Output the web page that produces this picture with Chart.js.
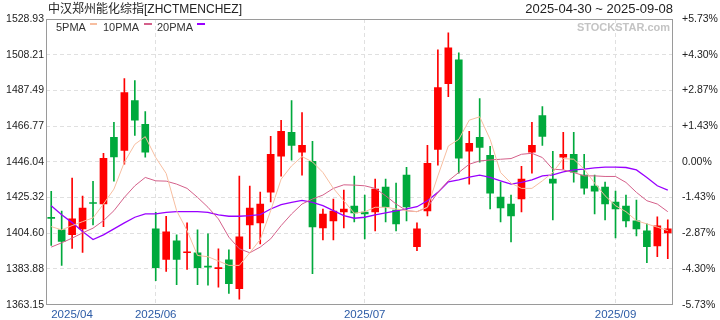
<!DOCTYPE html>
<html>
<head>
<meta charset="utf-8">
<script src="https://cdn.jsdelivr.net/npm/chart.js@4.4.1/dist/chart.umd.min.js"></script>
<style>
html, body { margin: 0; padding: 0; background: #fff; }
canvas { display: block; }
</style>
</head>
<body>
<canvas id="kline" width="720" height="320"></canvas>
<script>
// daily candles, 2025-04-30 .. 2025-09-08 (60 sessions)
const opens = [1413.78, 1406.57, 1403.85, 1407.14, 1422.44, 1421.57, 1460.25, 1452.74, 1481.60, 1467.75,
  1407.14, 1389.42, 1400.22, 1393.29, 1393.29, 1385.50, 1384.06, 1389.25, 1372.51, 1409.45,
  1410.61, 1428.50, 1449.28, 1463.13, 1451.59, 1446.39, 1407.72, 1411.76, 1416.96, 1420.42,
  1416.96, 1416.96, 1431.39, 1418.11, 1438.31, 1396.75, 1417.53, 1453.32, 1491.42, 1505.27,
  1452.17, 1460.25, 1449.86, 1425.61, 1421.57, 1424.46, 1451.59, 1472.94, 1436.00, 1448.70,
  1450.43, 1438.31, 1431.96, 1431.39, 1422.73, 1420.42, 1411.76, 1405.99, 1397.33, 1404.84];
const highs = [1428.90, 1417.53, 1436.58, 1426.19, 1434.68, 1451.01, 1468.90, 1494.30, 1493.15, 1475.25,
  1416.78, 1414.47, 1403.68, 1410.61, 1406.57, 1404.26, 1395.60, 1395.02, 1437.74, 1431.96,
  1428.50, 1460.82, 1470.06, 1481.60, 1474.68, 1457.94, 1418.69, 1424.46, 1429.65, 1437.74,
  1426.77, 1436.00, 1436.00, 1433.70, 1442.93, 1410.61, 1455.63, 1511.04, 1520.85, 1509.31,
  1463.71, 1482.76, 1455.05, 1434.27, 1426.77, 1443.51, 1468.90, 1478.14, 1452.17, 1463.13,
  1463.13, 1450.43, 1438.31, 1434.27, 1429.08, 1426.77, 1423.88, 1410.03, 1414.07, 1412.34];
const lows = [1397.50, 1385.96, 1395.77, 1393.46, 1409.45, 1408.47, 1434.85, 1444.66, 1461.40, 1448.70,
  1377.13, 1382.50, 1374.82, 1383.65, 1374.82, 1374.42, 1373.26, 1369.63, 1366.34, 1395.60,
  1398.49, 1422.73, 1437.74, 1446.97, 1438.31, 1381.17, 1400.79, 1400.79, 1407.72, 1411.18,
  1401.37, 1405.99, 1411.18, 1405.99, 1411.76, 1394.45, 1414.65, 1444.08, 1483.91, 1439.47,
  1433.12, 1445.82, 1418.69, 1411.18, 1399.64, 1416.96, 1439.47, 1455.63, 1412.34, 1441.78,
  1434.27, 1427.35, 1415.80, 1412.34, 1401.95, 1408.30, 1403.10, 1387.52, 1390.98, 1389.83];
const closes = [1413.20, 1399.81, 1412.92, 1419.27, 1421.86, 1448.13, 1448.88, 1486.22, 1470.23, 1451.59,
  1384.63, 1405.41, 1389.42, 1393.87, 1384.63, 1384.92, 1384.63, 1375.40, 1402.53, 1419.27,
  1421.57, 1450.43, 1463.71, 1455.63, 1455.63, 1408.30, 1415.80, 1417.53, 1418.69, 1416.38,
  1415.80, 1430.23, 1419.84, 1410.03, 1419.84, 1407.14, 1445.24, 1489.11, 1512.19, 1448.13,
  1456.78, 1454.47, 1427.92, 1419.27, 1414.65, 1436.00, 1455.63, 1460.82, 1433.70, 1450.43,
  1440.04, 1430.81, 1429.08, 1421.57, 1418.69, 1411.76, 1407.14, 1396.75, 1408.88, 1407.14];

const ma5 = [1408.47, 1406.57, 1409.05, 1411.36, 1413.49, 1421.57, 1430.23, 1445.82, 1456.21, 1460.65,
  1448.53, 1439.29, 1417.71, 1406.16, 1391.73, 1390.98, 1388.50, 1385.96, 1385.96, 1393.29,
  1400.97, 1417.71, 1436.00, 1443.68, 1449.11, 1445.99, 1439.87, 1430.64, 1423.48, 1416.21,
  1417.13, 1419.67, 1419.67, 1418.69, 1417.71, 1417.13, 1419.67, 1437.91, 1455.22, 1459.09,
  1470.23, 1472.19, 1459.09, 1439.87, 1433.70, 1430.64, 1430.64, 1435.02, 1439.87, 1447.95,
  1447.55, 1441.78, 1433.70, 1426.36, 1420.59, 1417.13, 1411.93, 1410.03, 1408.12, 1406.16];
const ma10 = [1396.58, 1399.06, 1401.78, 1404.84, 1407.55, 1411.93, 1417.71, 1425.44, 1432.14, 1436.99,
  1435.02, 1434.85, 1433.12, 1430.64, 1425.44, 1419.67, 1412.92, 1402.35, 1395.60, 1393.29,
  1396.58, 1401.37, 1409.05, 1415.80, 1421.57, 1424.46, 1426.77, 1430.64, 1432.71, 1432.54,
  1432.14, 1430.64, 1426.36, 1421.57, 1417.71, 1417.13, 1419.67, 1428.33, 1435.02, 1439.87,
  1444.66, 1446.57, 1447.14, 1447.55, 1447.95, 1450.43, 1451.01, 1448.53, 1441.78, 1441.37,
  1439.87, 1437.91, 1437.91, 1437.56, 1437.56, 1434.10, 1428.33, 1423.48, 1421.57, 1417.13];
const ma20 = [1420.59, 1415.40, 1410.78, 1405.59, 1400.97, 1403.68, 1407.14, 1410.61, 1413.90, 1415.80,
  1415.80, 1416.78, 1417.13, 1417.13, 1417.13, 1416.78, 1415.22, 1414.47, 1414.47, 1414.82,
  1415.46, 1418.69, 1421.17, 1422.55, 1423.71, 1422.55, 1420.59, 1417.71, 1414.82, 1413.32,
  1413.90, 1415.22, 1416.38, 1417.53, 1418.69, 1420.02, 1423.48, 1428.33, 1434.45, 1435.60,
  1437.16, 1438.31, 1436.99, 1435.02, 1433.12, 1434.10, 1435.60, 1437.91, 1438.49, 1440.22,
  1441.37, 1441.78, 1442.53, 1442.93, 1442.93, 1442.76, 1441.37, 1436.99, 1432.14, 1429.65];

const monthIndex = [0, 10, 30, 54];
const monthLabels = ['2025/04', '2025/06', '2025/07', '2025/09'];
const yTicks = [1363.15, 1383.88, 1404.60, 1425.32, 1446.04, 1466.77, 1487.49, 1508.21, 1528.93];
const pctLabels = ['-5.73%', '-4.30%', '-2.87%', '-1.43%', '0.00%', '+1.43%', '+2.87%', '+4.30%', '+5.73%'];

const UP = '#ff0000', DOWN = '#00a93c';
const labels = opens.map((o, i) => {
  const m = monthIndex.indexOf(i);
  return m >= 0 ? monthLabels[m] : '';
});
const candleColor = opens.map((o, i) => closes[i] >= o ? UP : DOWN);

// frame, titles, legend and watermark
const decor = {
  id: 'decor',
  beforeDatasetsDraw(chart) {
    const ctx = chart.ctx;
    ctx.save();
    ctx.font = 'bold 11px Arial';
    ctx.fillStyle = '#c4c4c4';
    ctx.textAlign = 'right';
    ctx.textBaseline = 'middle';
    ctx.fillText('STOCKSTAR.com', 670, 28);
    ctx.restore();
  },
  afterDraw(chart) {
    const ctx = chart.ctx, a = chart.chartArea;
    ctx.save();
    ctx.strokeStyle = '#9a9a9a';
    ctx.lineWidth = 1;
    ctx.strokeRect(Math.round(a.left) + 0.5, Math.round(a.top) + 0.5,
      Math.round(a.right - a.left) - 1, Math.round(a.bottom - a.top) - 1);

    ctx.fillStyle = '#222';
    ctx.textBaseline = 'alphabetic';
    ctx.textAlign = 'left';
    ctx.font = '12px Arial, "Noto Sans CJK SC", sans-serif';
    ctx.fillText('中汉郑州能化综指[ZHCTMENCHEZ]', 48, 13);
    ctx.textAlign = 'right';
    ctx.font = '13px Arial, sans-serif';
    ctx.fillText('2025-04-30 ~ 2025-09-08', 673, 13);

    ctx.font = '11px Arial';
    ctx.textAlign = 'left';
    ctx.textBaseline = 'middle';
    ctx.fillStyle = '#333';
    ctx.fillText('5PMA', 56, 28);
    ctx.fillText('10PMA', 103, 28);
    ctx.fillText('20PMA', 157, 28);
    ctx.fillStyle = '#f7bea0'; ctx.fillRect(90, 23, 7, 2);
    ctx.fillStyle = '#d4608a'; ctx.fillRect(144, 23, 8, 2);
    ctx.fillStyle = '#9900ff'; ctx.fillRect(197, 23, 8, 2);
    ctx.restore();
  }
};

const ctx = document.getElementById('kline').getContext('2d');
new Chart(ctx, {
  type: 'bar',
  data: {
    labels: labels,
    datasets: [
      {
        type: 'line', label: '5PMA', data: ma5, order: 0,
        borderColor: '#f7bea0', borderWidth: 1, pointRadius: 0, tension: 0
      },
      {
        type: 'line', label: '10PMA', data: ma10, order: 0,
        borderColor: '#d4608a', borderWidth: 1, pointRadius: 0, tension: 0
      },
      {
        type: 'line', label: '20PMA', data: ma20, order: 0,
        borderColor: '#9900ff', borderWidth: 1.3, pointRadius: 0, tension: 0
      },
      {
        label: 'body', data: opens.map((o, i) => [o, closes[i]]), order: 1,
        backgroundColor: candleColor, barThickness: 7, grouped: false,
        borderWidth: 0, borderSkipped: false, minBarLength: 1
      },
      {
        label: 'wick', data: lows.map((l, i) => [l, highs[i]]), order: 2,
        backgroundColor: candleColor, barThickness: 1, grouped: false,
        borderWidth: 0, borderSkipped: false
      }
    ]
  },
  options: {
    responsive: false,
    animation: false,
    devicePixelRatio: 1,
    layout: { padding: { top: 19, left: 0, right: 0, bottom: 0 } },
    plugins: {
      legend: { display: false },
      tooltip: { enabled: false },
      title: { display: false }
    },
    scales: {
      x: {
        type: 'category',
        offset: true,
        afterFit: s => { s.height = 14; },
        grid: {
          offset: false,
          drawTicks: false,
          color: c => (c.index > 0 && monthIndex.includes(c.index)) ? '#e0e0e0' : 'rgba(0,0,0,0)'
        },
        border: { display: false, dash: [4, 3] },
        ticks: {
          autoSkip: false, maxRotation: 0, minRotation: 0, padding: 3, align: 'inner',
          color: '#2c5ba6', font: { family: 'Arial', size: 11.5 }
        }
      },
      y: {
        position: 'left',
        min: 1363.15, max: 1528.93,
        afterFit: s => { s.width = 46; },
        afterBuildTicks: s => { s.ticks = yTicks.map(v => ({ value: v })); },
        grid: {
          drawTicks: false,
          color: c => (c.index === 0 || c.index === yTicks.length - 1) ? 'rgba(0,0,0,0)' : '#e0e0e0'
        },
        border: { display: false, dash: [4, 3] },
        ticks: {
          padding: 2, color: '#222', font: { family: 'Arial', size: 10.5 },
          callback: v => v.toFixed(2)
        }
      },
      y2: {
        position: 'right',
        min: 1363.15, max: 1528.93,
        afterFit: s => { s.width = 47; },
        afterBuildTicks: s => { s.ticks = yTicks.map(v => ({ value: v })); },
        grid: { display: false, drawTicks: false },
        border: { display: false },
        ticks: {
          padding: 9, color: '#222', font: { family: 'Arial', size: 10.5 },
          callback: (v, i) => pctLabels[i]
        }
      }
    }
  },
  plugins: [decor]
});
</script>
</body>
</html>
